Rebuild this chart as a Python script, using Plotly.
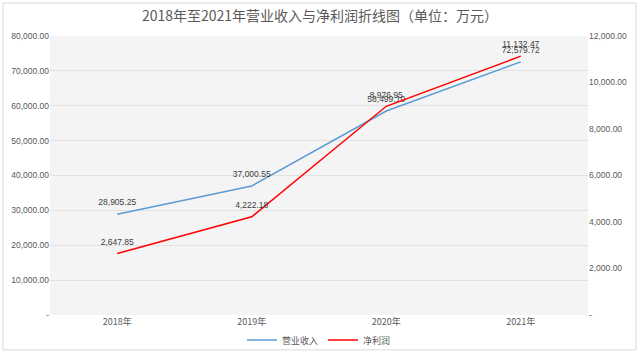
import plotly.graph_objects as go

years = ["2018年", "2019年", "2020年", "2021年"]
revenue = [28905.25, 37000.55, 58499.10, 72579.72]
profit = [2647.85, 4222.18, 8976.95, 11132.47]
left_ticks = [0, 10000, 20000, 30000, 40000, 50000, 60000, 70000, 80000]
right_ticks = [0, 2000, 4000, 6000, 8000, 10000, 12000]


def fmt(v):
    return "-" if v == 0 else f"{v:,.2f}"


FONT = "Liberation Sans, Noto Sans CJK SC, sans-serif"
GRAY = "#595959"
CLEAR = "rgba(0,0,0,0)"

fig = go.Figure()
fig.add_trace(go.Scatter(
    x=years, y=revenue, name="营业收入", mode="lines+markers+text",
    line=dict(color="#5B9BD5", width=1.5),
    marker=dict(size=9, color=CLEAR, line=dict(width=0, color=CLEAR)),
    text=[fmt(v) for v in revenue], textposition="top center",
    textfont=dict(size=8.5, color="#404040", family=FONT),
    yaxis="y", cliponaxis=False,
))
fig.add_trace(go.Scatter(
    x=years, y=profit, name="净利润", mode="lines+markers+text",
    line=dict(color="#FF0000", width=1.5),
    marker=dict(size=9, color=CLEAR, line=dict(width=0, color=CLEAR)),
    text=[fmt(v) for v in profit], textposition="top center",
    textfont=dict(size=8.5, color="#404040", family=FONT),
    yaxis="y2", cliponaxis=False,
))

fig.update_layout(
    width=640, height=354,
    margin=dict(l=50, r=52, t=36, b=39, autoexpand=False),
    paper_bgcolor="white",
    plot_bgcolor="#f4f4f4",
    font=dict(family=FONT, color=GRAY, size=9),
    title=dict(
        text="2018年至2021年营业收入与净利润折线图（单位：万元）",
        x=0.5, xanchor="center", y=0.955, yanchor="middle",
        font=dict(size=14, color=GRAY, family="Noto Sans CJK SC, sans-serif"),
    ),
    xaxis=dict(
        type="category", showgrid=False, zeroline=False,
        showline=False, ticks="",
        tickfont=dict(size=9, color=GRAY, family="Noto Sans CJK SC, sans-serif"),
        range=[-0.5, 3.5],
    ),
    yaxis=dict(
        range=[0, 80000], tickvals=left_ticks,
        ticktext=[fmt(v) for v in left_ticks],
        showgrid=True, gridcolor="#e2e2e2", gridwidth=1,
        zeroline=False, showline=False, ticks="",
        tickfont=dict(size=8.5, color=GRAY),
    ),
    yaxis2=dict(
        range=[0, 12000], tickvals=right_ticks,
        ticktext=[fmt(v) for v in right_ticks],
        overlaying="y", side="right", showgrid=False,
        zeroline=False, showline=False, ticks="",
        tickfont=dict(size=8.5, color=GRAY),
    ),
    legend=dict(
        orientation="h", x=0.5, xanchor="center", y=-0.09, yanchor="middle",
        font=dict(size=9, color=GRAY, family="Noto Sans CJK SC, sans-serif"),
        itemwidth=30, tracegroupgap=0, bgcolor="rgba(0,0,0,0)",
    ),
    shapes=[dict(
        type="rect", xref="paper", yref="paper",
        x0=-0.0874, x1=1.0892, y0=-0.125, y1=1.118,
        line=dict(color="#d9d9d9", width=1), fillcolor="rgba(0,0,0,0)",
        layer="below",
    )],
)

fig.write_html("out.html")
